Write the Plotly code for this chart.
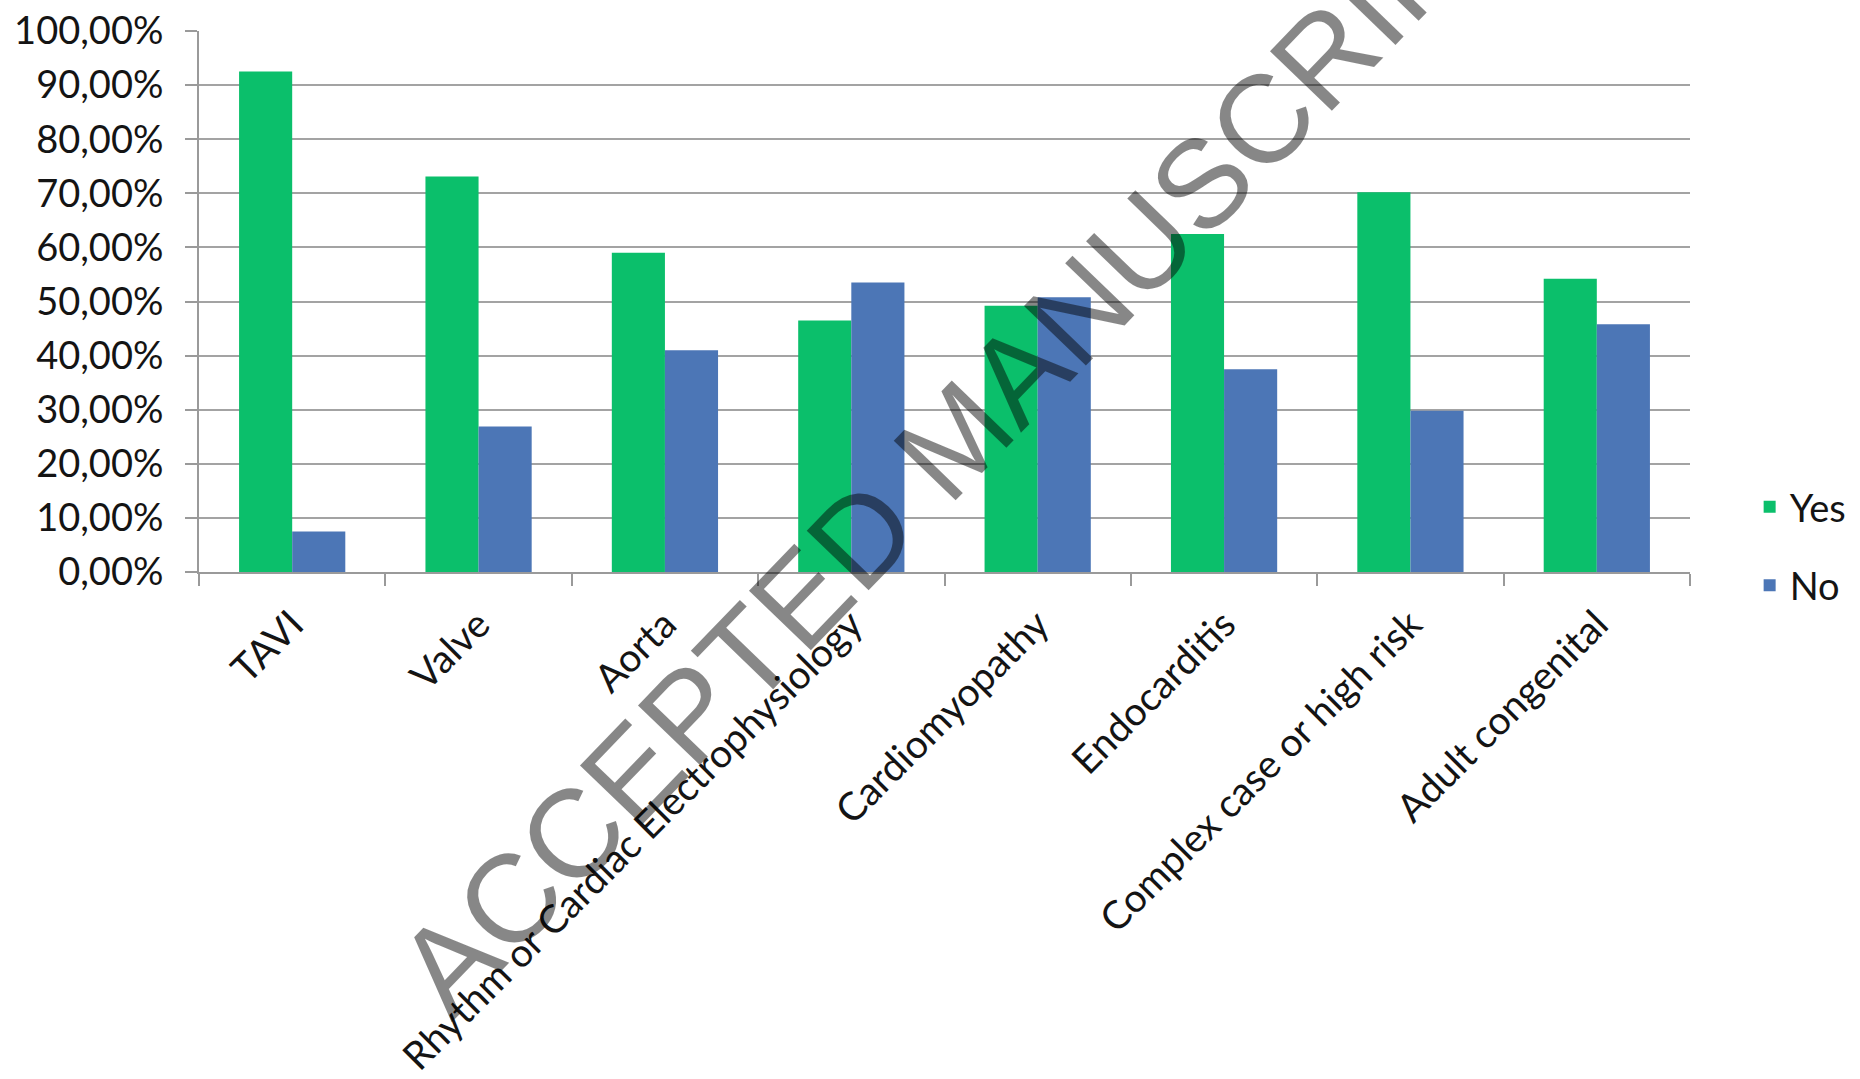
import plotly.graph_objects as go

categories = ["TAVI", "Valve", "Aorta", "Rhythm or Cardiac Electrophysiology",
              "Cardiomyopathy", "Endocarditis", "Complex case or high risk", "Adult congenital"]
yes_values = [92.5, 73.1, 59.0, 46.5, 49.2, 62.5, 70.2, 54.2]
no_values = [7.5, 26.9, 41.0, 53.5, 50.8, 37.5, 29.8, 45.8]
y_tick_values = [0, 10, 20, 30, 40, 50, 60, 70, 80, 90, 100]
y_tick_labels = ["0,00%", "10,00%", "20,00%", "30,00%", "40,00%", "50,00%",
                 "60,00%", "70,00%", "80,00%", "90,00%", "100,00%"]

GREEN = "#0BBF6B"
BLUE = "#4C76B6"
FONT = "Lato"
TXT = "#141414"

fig = go.Figure()
fig.add_trace(go.Bar(name="Yes", x=categories, y=yes_values, marker_color=GREEN,
                     marker_line_width=0, legendgroup="a"))
fig.add_trace(go.Bar(name="No", x=categories, y=no_values, marker_color=BLUE,
                     marker_line_width=0, legendgroup="b"))

fig.update_layout(
    width=1860, height=1079,
    margin=dict(l=199, r=170, t=31, b=507, autoexpand=False),
    paper_bgcolor="white", plot_bgcolor="white",
    barmode="group", bargap=0.43, bargroupgap=0,
    font=dict(family=FONT, size=38, color=TXT),
    showlegend=True,
    legend=dict(x=1.040, y=0.048, xanchor="left", yanchor="middle",
                font=dict(family=FONT, size=38, color=TXT),
                traceorder="grouped", tracegroupgap=26,
                bgcolor="rgba(0,0,0,0)"),
    annotations=[dict(
        text="ACCEPTED MANUSCRIPT", xref="paper", yref="paper",
        x=0.5077, y=0.248, xanchor="center", yanchor="middle",
        textangle=-46, showarrow=False,
        font=dict(family="Liberation Sans", size=125, color="rgba(0,0,0,0.47)"))],
)

fig.update_xaxes(
    showline=True, linecolor="#9a9a9a", linewidth=2,
    ticks="outside", tickson="boundaries", ticklen=12, tickcolor="#9a9a9a", tickwidth=2,
    tickangle=-45, tickfont=dict(family=FONT, size=39, color=TXT),
    ticklabelstandoff=12,
    showgrid=False,
)
fig.update_yaxes(
    range=[0, 100], tickvals=y_tick_values, ticktext=y_tick_labels,
    showline=True, linecolor="#9a9a9a", linewidth=2,
    ticks="outside", ticklen=12, tickcolor="#9a9a9a", tickwidth=2,
    showgrid=True, gridcolor="#a3a3a3", gridwidth=2,
    tickfont=dict(family=FONT, size=38, color=TXT),
    ticklabelstandoff=14,
    zeroline=False,
)

fig.write_html("out.html")
